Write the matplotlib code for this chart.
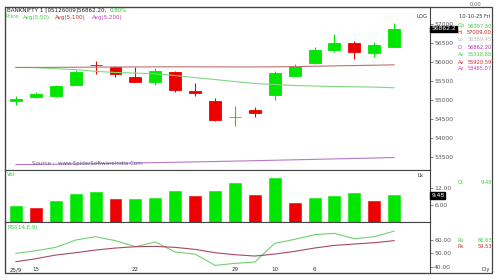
import matplotlib as mpl

mpl.use('Agg')

from matplotlib import pyplot as plt
from matplotlib.patches import Rectangle

# daily candles, 12 Sep .. 10 Oct 2025
day_labels = ["25/9", "15", "22", "29", "10", "6"]
day_label_idx = [0, 1, 6, 11, 13, 15]

opens = [54967, 55072, 55090, 55396, 55925, 55873, 55612, 55463, 55725, 55228,
         54967, 54545, 54725, 55116, 55638, 55960, 56309, 56492, 56231, 56397.80]
highs = [55090, 55202, 55396, 55787, 56030, 55900, 55855, 55839, 55756, 55448,
         55056, 54829, 54811, 55769, 55944, 56396, 56727, 56534, 56526, 57009.00]
lows = [54855, 55056, 55072, 55380, 55683, 55594, 55463, 55396, 55202, 55090,
        54445, 54307, 54550, 54986, 55625, 55952, 56247, 56074, 56134, 56389.45]
closes = [55030, 55142, 55359, 55725, 55912, 55683, 55482, 55751, 55265, 55176,
          54482, 54555, 54654, 55698, 55899, 56309, 56500, 56247, 56440, 56862.20]

avg50 = [55855, 55847, 55820, 55795, 55750, 55720, 55704, 55683, 55640, 55586,
         55534, 55482, 55430, 55403, 55377, 55364, 55351, 55343, 55335, 55318.88]
avg100 = [55850, 55852, 55855, 55858, 55861, 55864, 55866, 55867, 55868, 55868,
          55867, 55866, 55866, 55868, 55875, 55884, 55893, 55902, 55911, 55920.59]
avg200 = [53300, 53305, 53311, 53318, 53326, 53334, 53343, 53352, 53361, 53371,
          53381, 53392, 53403, 53414, 53426, 53438, 53449, 53461, 53473, 53485.07]

volume = [5.76, 5.04, 7.56, 9.84, 10.8, 8.16, 8.16, 8.64, 11.04, 9.24,
          11.04, 13.8, 9.6, 15.6, 6.6, 8.64, 9.24, 10.2, 7.44, 9.48]
vol_up = [1, 0, 1, 1, 1, 0, 1, 1, 1, 0, 1, 1, 0, 1, 0, 1, 1, 1, 0, 1]

rsi = [50, 52, 54.5, 60, 62.5, 59.5, 55, 58.5, 51, 49.5,
       41, 42.5, 43.5, 57.5, 60.5, 64, 65, 61, 62.5, 66.63]
rsi_avg = [43.75, 46, 48.75, 50.5, 52.5, 54, 55, 55.25, 54.5, 53,
           50.5, 49, 48, 49.5, 51.5, 54, 56, 57, 58, 59.53]

GREEN = '#00e600'
RED = '#ee0000'
FRAME = '#444444'


def fx(px):
    return px / 500.0


def fy(py):
    return 1 - py / 280.0


fig = plt.figure(figsize=(5, 2.8), dpi=100)
fig.patch.set_facecolor('white')

# outer frame
fig.patches.append(Rectangle((fx(5), fy(273)), fx(487), 266 / 280.0, transform=fig.transFigure,
                             fill=False, edgecolor=FRAME, linewidth=0.9))

left, width = fx(5), fx(425)
ax = fig.add_axes([left, fy(170), width, 163 / 280.0])
axv = fig.add_axes([left, fy(222), width, 52 / 280.0])
axr = fig.add_axes([left, fy(273), width, 51 / 280.0])

x = list(range(len(closes)))
for a in (ax, axv, axr):
    a.set_xlim(-0.55, 20.8)
    a.set_xticks([])
    for s in a.spines.values():
        s.set_color(FRAME)
        s.set_linewidth(0.8)
    a.yaxis.tick_right()
    a.tick_params(axis='y', labelsize=4.3, length=2, pad=1, colors='#555555', width=0.5)

# price panel
for i in x:
    o, h, l, c = opens[i], highs[i], lows[i], closes[i]
    col = GREEN if c >= o else RED
    ax.vlines(i, l, h, color=col, linewidth=0.8)
    ax.bar(i, max(abs(c - o), 1), bottom=min(o, c), width=0.6, color=col,
           edgecolor=col, linewidth=0.6)
ax.plot(x, avg50, color='#80d880', linewidth=0.8)
ax.plot(x, avg100, color='#c07070', linewidth=0.8)
ax.plot(x, avg200, color='#b878c8', linewidth=0.8)
ax.set_ylim(53158, 57440)
ax.set_yticks([53500, 54000, 54500, 55000, 55500, 56000, 56500, 57000])
ax.text(1.003, closes[-1], "56862.2", transform=ax.get_yaxis_transform(), fontsize=4.3,
        color='white', va='center', ha='left',
        bbox=dict(boxstyle='square,pad=0.15', facecolor='black', edgecolor='black'))
ax.text(0.995, 0.94, "LOG", transform=ax.transAxes, fontsize=4.0, color='#333333',
        ha='right', va='center')
ax.text(0.063, 0.04, "Source :  www.SpiderSoftwareIndia.Com", transform=ax.transAxes,
        fontsize=4.0, color='#6a5a8a', va='center')

# volume panel
vcols = [GREEN if u else RED for u in vol_up]
axv.bar(x, volume, width=0.6, color=vcols, edgecolor=vcols, linewidth=0.4)
axv.set_ylim(-0.1, 18.6)
axv.set_yticks([6, 12])
axv.set_yticklabels(["6.00", "12.00"])
axv.text(1.003, volume[-1], "9.48", transform=axv.get_yaxis_transform(), fontsize=4.3,
         color='white', va='center', ha='left',
         bbox=dict(boxstyle='square,pad=0.15', facecolor='black', edgecolor='black'))
axv.text(0.005, 0.92, "Vol", transform=axv.transAxes, fontsize=4.0, color='#33cc33', va='center')
axv.text(0.985, 0.9, "Lk", transform=axv.transAxes, fontsize=4.0, color='#333333',
         ha='right', va='center')

# rsi panel
axr.plot(x, rsi, color='#70d070', linewidth=0.8)
axr.plot(x, rsi_avg, color='#a84860', linewidth=0.8)
axr.set_ylim(35.3, 73.5)
axr.set_yticks([40, 50, 60])
axr.set_yticklabels(["40.00", "50.00", "60.00"])
axr.text(0.005, 0.9, "RSI(14,E,9)", transform=axr.transAxes, fontsize=4.0, color='#33cc33', va='center')
for idx, lab in zip(day_label_idx, day_labels):
    axr.text(idx, 0.06, lab, transform=axr.get_xaxis_transform(), fontsize=4.0,
             color='#333333', ha='center', va='center')

# header text
fig.text(fx(7), fy(10), "BANKNIFTY 1 [05126009]56862.20,", fontsize=4.1, color='#222222', va='center')
fig.text(fx(110), fy(10), "0.80%", fontsize=4.1, color='#33bb33', va='center')
fig.text(fx(6), fy(17), "Price", fontsize=4.1, color='#44cc44', va='center')
fig.text(fx(23), fy(17), "Avg(5,50)", fontsize=4.1, color='#44cc44', va='center')
fig.text(fx(55), fy(17), "Avg(5,100)", fontsize=4.1, color='#c03030', va='center')
fig.text(fx(92), fy(17), "Avg(5,200)", fontsize=4.1, color='#c040c0', va='center')

# right info column
fs = 3.7
fig.text(fx(476), fy(4), "0.00", fontsize=fs, color='#666666', ha='center', va='center')
fig.text(fx(475), fy(17), "10-10-25 Fri", fontsize=fs, color='#333333', ha='center', va='center')
info = [("Op", "56397.80", '#44cc44', 26), ("Hi", "57009.00", '#c02020', 33),
        ("Lo", "56389.45", '#bbbbbb', 40), ("O", "56862.20", '#c030c0', 47.5),
        ("Av", "55318.88", '#44cc44', 55), ("Av", "55920.59", '#c03030', 62),
        ("Av", "53485.07", '#c040c0', 69)]
for lab, val, col, py in info:
    fig.text(fx(458), fy(py), lab, fontsize=fs, color=col, va='center')
    fig.text(fx(492), fy(py), val, fontsize=fs, color=col, ha='right', va='center')

fig.text(fx(458), fy(182), "Qt", fontsize=fs, color='#44cc44', va='center')
fig.text(fx(492), fy(182), "9.48", fontsize=fs, color='#44cc44', ha='right', va='center')
fig.text(fx(458), fy(240), "Rs", fontsize=fs, color='#44cc44', va='center')
fig.text(fx(492), fy(240), "66.63", fontsize=fs, color='#44cc44', ha='right', va='center')
fig.text(fx(458), fy(247), "Rs", fontsize=fs, color='#c03030', va='center')
fig.text(fx(492), fy(247), "59.53", fontsize=fs, color='#c03030', ha='right', va='center')
fig.text(fx(490), fy(270), "Dly", fontsize=fs, color='#333333', ha='right', va='center')

plt.savefig('out.png', dpi=100)
plt.close()
